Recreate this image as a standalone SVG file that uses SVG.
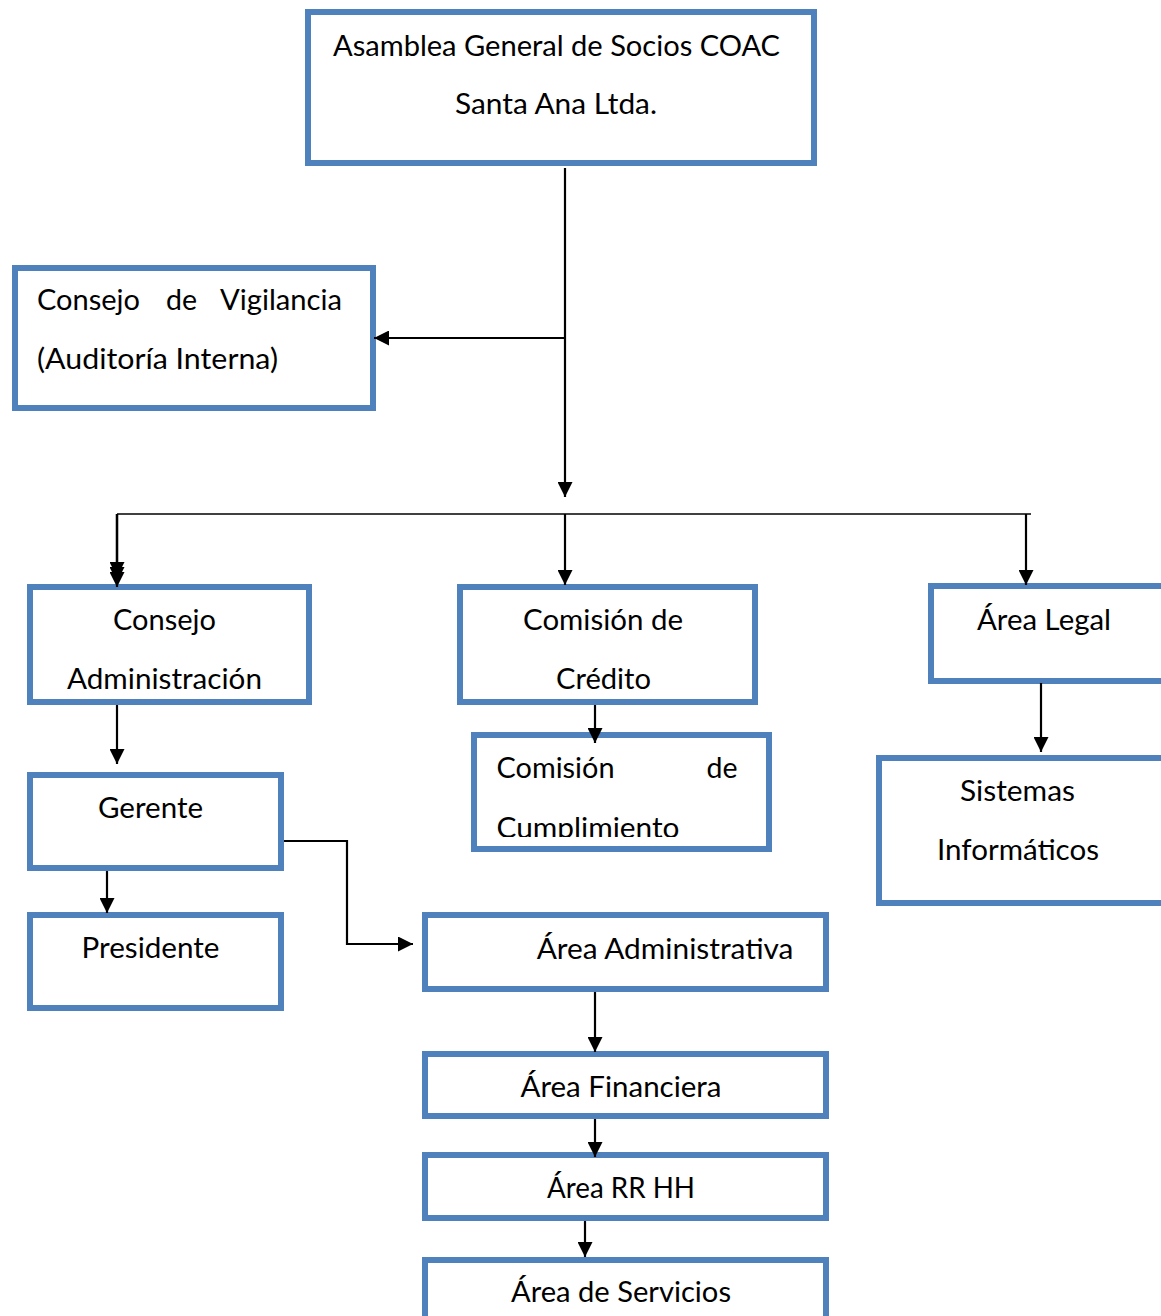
<svg xmlns="http://www.w3.org/2000/svg" width="1161" height="1316" viewBox="0 0 1161 1316">
<style>
.box{fill:#fff;stroke:#4F81BD;stroke-width:6}
.t{font-family:Lato,"Liberation Sans",sans-serif;font-size:29px;fill:#000}
.c{text-anchor:middle}
.ln{fill:none;stroke:#000;stroke-width:2.2}
</style>
<defs>
<marker id="ah" markerUnits="userSpaceOnUse" markerWidth="15" markerHeight="15" refX="15" refY="7.5" orient="auto" viewBox="0 0 15 15">
<path d="M0,0 L15,7.5 L0,15 z" fill="#000"/>
</marker>
<clipPath id="clipCump"><rect x="476" y="738" width="290" height="99"/></clipPath>
</defs>
<rect width="1161" height="1316" fill="#fff"/>

<g id="asamblea">
<rect class="box" x="308" y="12" width="506" height="151"/>
<text class="t c" x="556.5" y="56" textLength="447" lengthAdjust="spacingAndGlyphs">Asamblea General de Socios COAC</text>
<text class="t c" x="556" y="114" textLength="202" lengthAdjust="spacingAndGlyphs">Santa Ana Ltda.</text>
</g>

<g id="vigilancia">
<rect class="box" x="15" y="268" width="358" height="140"/>
<text class="t" x="37" y="310" textLength="103" lengthAdjust="spacingAndGlyphs">Consejo</text>
<text class="t" x="166" y="310" textLength="31" lengthAdjust="spacingAndGlyphs">de</text>
<text class="t" x="220" y="310" textLength="122" lengthAdjust="spacingAndGlyphs">Vigilancia</text>
<text class="t" x="37" y="369" textLength="241" lengthAdjust="spacingAndGlyphs">(Auditoría Interna)</text>
</g>

<g id="consejo-admin">
<rect class="box" x="30" y="587" width="279" height="115"/>
<text class="t c" x="164.5" y="630" textLength="103" lengthAdjust="spacingAndGlyphs">Consejo</text>
<text class="t c" x="164.5" y="689" textLength="195" lengthAdjust="spacingAndGlyphs">Administración</text>
</g>

<g id="gerente">
<rect class="box" x="30" y="775" width="251" height="93"/>
<text class="t c" x="150.5" y="818" textLength="105" lengthAdjust="spacingAndGlyphs">Gerente</text>
</g>

<g id="presidente">
<rect class="box" x="30" y="915" width="251" height="93"/>
<text class="t c" x="150.5" y="958" textLength="138" lengthAdjust="spacingAndGlyphs">Presidente</text>
</g>

<g id="comision-credito">
<rect class="box" x="460" y="587" width="295" height="115"/>
<text class="t c" x="603" y="630" textLength="160" lengthAdjust="spacingAndGlyphs">Comisión de</text>
<text class="t c" x="603.5" y="689" textLength="95" lengthAdjust="spacingAndGlyphs">Crédito</text>
</g>

<g id="comision-cumplimiento">
<rect class="box" x="474" y="735" width="295" height="114"/>
<text class="t" x="496.5" y="778" textLength="118" lengthAdjust="spacingAndGlyphs">Comisión</text>
<text class="t" x="706.5" y="778" textLength="31" lengthAdjust="spacingAndGlyphs">de</text>
<text class="t" x="496.5" y="838" textLength="183" lengthAdjust="spacingAndGlyphs" clip-path="url(#clipCump)">Cumplimiento</text>
</g>

<g id="area-legal">
<rect class="box" x="931" y="586" width="260" height="95"/>
<text class="t c" x="1044" y="630" textLength="134" lengthAdjust="spacingAndGlyphs">Área Legal</text>
</g>

<g id="sistemas">
<rect class="box" x="879" y="758" width="300" height="145"/>
<text class="t c" x="1017.5" y="801" textLength="115" lengthAdjust="spacingAndGlyphs">Sistemas</text>
<text class="t c" x="1018" y="860" textLength="162" lengthAdjust="spacingAndGlyphs">Informáticos</text>
</g>

<g id="area-administrativa">
<rect class="box" x="425" y="915" width="401" height="74"/>
<text class="t" x="536.7" y="959" textLength="256.7" lengthAdjust="spacingAndGlyphs">Área Administrativa</text>
</g>

<g id="area-financiera">
<rect class="box" x="425" y="1054" width="401" height="62"/>
<text class="t c" x="621" y="1097" textLength="201" lengthAdjust="spacingAndGlyphs">Área Financiera</text>
</g>

<g id="area-rrhh">
<rect class="box" x="425" y="1155" width="401" height="63"/>
<text class="t c" x="621" y="1198" textLength="148" lengthAdjust="spacingAndGlyphs">Área RR HH</text>
</g>

<g id="area-servicios">
<rect class="box" x="425" y="1260" width="401" height="80"/>
<text class="t c" x="621" y="1302" textLength="220" lengthAdjust="spacingAndGlyphs">Área de Servicios</text>
</g>

<g id="connectors">
<path class="ln" d="M565,168 V497" marker-end="url(#ah)"/>
<path class="ln" d="M565,338 H374" marker-end="url(#ah)"/>
<path class="ln" style="stroke-width:1.6" d="M117,514 H1031"/>
<path class="ln" d="M117,514 V577" marker-end="url(#ah)"/>
<path class="ln" d="M117,514 V582" marker-end="url(#ah)"/>
<path class="ln" d="M117,514 V587" marker-end="url(#ah)"/>
<path class="ln" d="M565,514 V585" marker-end="url(#ah)"/>
<path class="ln" d="M1026,514 V585" marker-end="url(#ah)"/>
<path class="ln" d="M117,705 V764" marker-end="url(#ah)"/>
<path class="ln" d="M107,871 V913" marker-end="url(#ah)"/>
<path class="ln" d="M284,841 H347 V944 H413" marker-end="url(#ah)"/>
<path class="ln" d="M595,705 V743" marker-end="url(#ah)"/>
<path class="ln" d="M1041,683 V752" marker-end="url(#ah)"/>
<path class="ln" d="M595,992 V1052" marker-end="url(#ah)"/>
<path class="ln" d="M595,1119 V1157" marker-end="url(#ah)"/>
<path class="ln" d="M585,1221 V1257" marker-end="url(#ah)"/>
</g>
</svg>
